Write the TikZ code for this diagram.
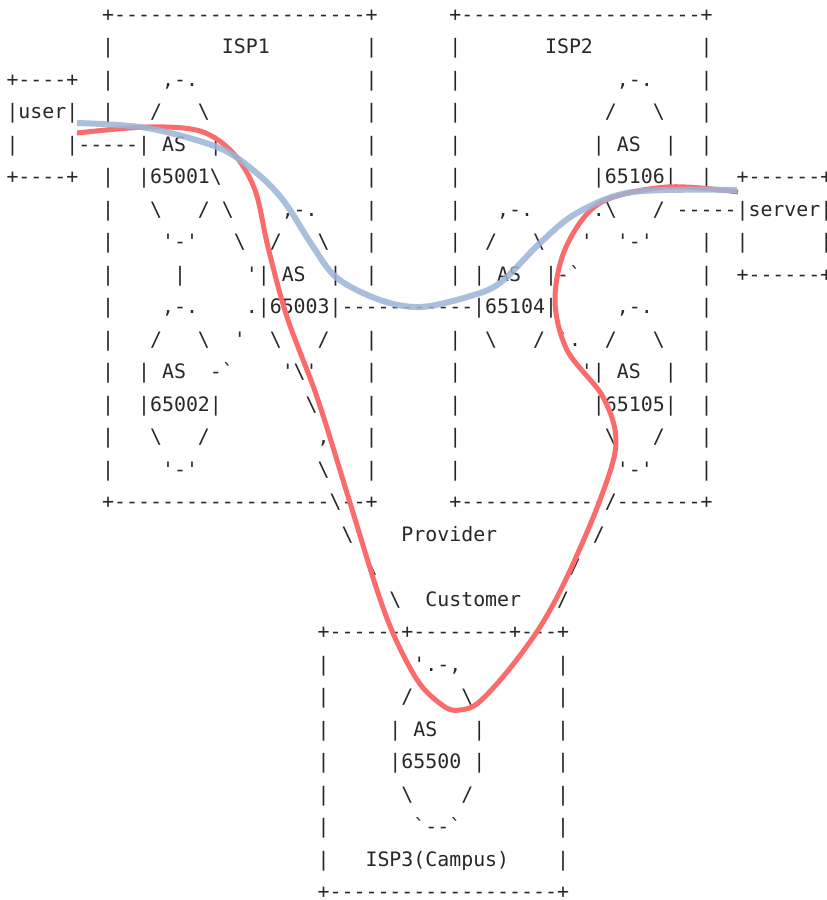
\documentclass[tikz,border=0pt]{standalone}
\usepackage{fontspec}
\setmonofont{DejaVu Sans Mono}
\ExplSyntaxOn
\NewDocumentCommand\dsh{m}{\prg_replicate:nn{#1}{-}}
\ExplSyntaxOff
\newcommand\sps[1]{\hspace*{#1\fontcharwd\font`0}}
\newcommand\bsl{\char"5C\relax}
\newcommand\apo{\char"27\relax}
\newcommand\bkt{\char"60\relax}
\definecolor{ink}{RGB}{40,40,40}
\definecolor{redline}{RGB}{250,108,108}
\definecolor{blueline}{RGB}{155,181,216}
\tikzset{
  ascii/.style={anchor=base west, inner sep=0pt, outer sep=0pt,
    font=\ttfamily\fontsize{14.91pt}{18pt}\selectfont, text=ink},
  redpath/.style={draw=redline, line width=3.75pt},
  bluepath/.style={draw=blueline, line width=4.5pt, opacity=0.85}
}
\begin{document}
\begin{tikzpicture}[x=0.75pt, y=-0.75pt]
\useasboundingbox (0,0) rectangle (827,900);
\fill[white] (0,0) rectangle (827,900);
\node[ascii] (r0) at (6.5,21.25) {\sps{8}+\dsh{21}+\sps{6}+\dsh{20}+};
\node[ascii] (r1) at (6.5,53.75) {\sps{8}|\sps{9}ISP1\sps{8}|\sps{6}|\sps{7}ISP2\sps{9}|};
\node[ascii] (r2) at (6.5,86.25) {+\dsh{4}+\sps{2}|\sps{4},-.\sps{14}|\sps{6}|\sps{13},-.\sps{4}|};
\node[ascii] (r3) at (6.5,118.75) {|user|\sps{2}|\sps{3}/\sps{3}\bsl\sps{13}|\sps{6}|\sps{12}/\sps{3}\bsl\sps{3}|};
\node[ascii] (r4) at (6.5,151.25) {|\sps{4}|\dsh{5}|\sps{1}AS\sps{2}|\sps{12}|\sps{6}|\sps{11}|\sps{1}AS\sps{2}|\sps{2}|};
\node[ascii] (r5) at (6.5,183.75) {+\dsh{4}+\sps{2}|\sps{2}|65001\bsl\sps{12}|\sps{6}|\sps{11}|65106|\sps{2}|\sps{2}+\dsh{6}+};
\node[ascii] (r6) at (6.5,216.25) {\sps{8}|\sps{3}\bsl\sps{3}/\sps{1}\bsl\sps{4},-.\sps{4}|\sps{6}|\sps{3},-.\sps{5}.\bsl\sps{3}/\sps{1}\dsh{5}|server|};
\node[ascii] (r7) at (6.5,248.75) {\sps{8}|\sps{4}\apo-\apo\sps{3}\bsl\sps{2}/\sps{3}\bsl\sps{3}|\sps{6}|\sps{2}/\sps{3}\bsl\sps{3}\apo\sps{2}\apo-\apo\sps{4}|\sps{2}|\sps{6}|};
\node[ascii] (r8) at (6.5,281.25) {\sps{8}|\sps{5}|\sps{5}\apo|\sps{1}AS\sps{2}|\sps{2}|\sps{6}|\sps{1}|\sps{1}AS\sps{2}|-\bkt\sps{10}|\sps{2}+\dsh{6}+};
\node[ascii] (r9) at (6.5,313.75) {\sps{8}|\sps{4},-.\sps{4}.|65003|\dsh{11}|65104|\sps{5},-.\sps{4}|};
\node[ascii] (r10) at (6.5,346.25) {\sps{8}|\sps{3}/\sps{3}\bsl\sps{2}\apo\sps{2}\bsl\sps{3}/\sps{3}|\sps{6}|\sps{2}\bsl\sps{3}/\sps{1}\bkt.\sps{2}/\sps{3}\bsl\sps{3}|};
\node[ascii] (r11) at (6.5,378.75) {\sps{8}|\sps{2}|\sps{1}AS\sps{2}-\bkt\sps{4}\apo\bsl\apo\sps{4}|\sps{6}|\sps{10}\apo|\sps{1}AS\sps{2}|\sps{2}|};
\node[ascii] (r12) at (6.5,411.25) {\sps{8}|\sps{2}|65002|\sps{7}\bsl\sps{4}|\sps{6}|\sps{11}|65105|\sps{2}|};
\node[ascii] (r13) at (6.5,443.75) {\sps{8}|\sps{3}\bsl\sps{3}/\sps{9},\sps{3}|\sps{6}|\sps{12}\bsl\sps{3}/\sps{3}|};
\node[ascii] (r14) at (6.5,476.25) {\sps{8}|\sps{4}\apo-\apo\sps{10}\bsl\sps{3}|\sps{6}|\sps{13}\apo-\apo\sps{4}|};
\node[ascii] (r15) at (6.5,508.75) {\sps{8}+\dsh{18}\bsl\dsh{2}+\sps{6}+\dsh{12}/\dsh{7}+};
\node[ascii] (r16) at (6.5,541.25) {\sps{28}\bsl\sps{4}Provider\sps{8}/};
\node[ascii] (r17) at (6.5,573.75) {\sps{30}\bsl\sps{16}/};
\node[ascii] (r18) at (6.5,606.25) {\sps{32}\bsl\sps{2}Customer\sps{3}/};
\node[ascii] (r19) at (6.5,638.75) {\sps{26}+\dsh{6}+\dsh{8}+\dsh{3}+};
\node[ascii] (r20) at (6.5,671.25) {\sps{26}|\sps{7}\apo.-,\sps{8}|};
\node[ascii] (r21) at (6.5,703.75) {\sps{26}|\sps{6}/\sps{4}\bsl\sps{7}|};
\node[ascii] (r22) at (6.5,736.25) {\sps{26}|\sps{5}|\sps{1}AS\sps{3}|\sps{6}|};
\node[ascii] (r23) at (6.5,768.75) {\sps{26}|\sps{5}|65500\sps{1}|\sps{6}|};
\node[ascii] (r24) at (6.5,801.25) {\sps{26}|\sps{6}\bsl\sps{4}/\sps{7}|};
\node[ascii] (r25) at (6.5,833.75) {\sps{26}|\sps{7}\bkt\dsh{2}\bkt\sps{8}|};
\node[ascii] (r26) at (6.5,866.25) {\sps{26}|\sps{3}ISP3(Campus)\sps{4}|};
\node[ascii] (r27) at (6.5,898.75) {\sps{26}+\dsh{19}+};
% red route
\draw[redpath] plot[smooth, tension=0.55] coordinates {
 (77,133) (147,127) (200,131) (233,153) (255,190) (268,247) (287,317) (317,397)
 (347,493) (377,590) (396,640) (420,684) (445,707) (460,710) (478,703)
 (507,672) (540,627) (567,577) (600,500) (616,443)
 (603,397) (567,350) (555,300) (566,247) (600,203) (667,187) (738,192)};
% blue route
\draw[bluepath] plot[smooth, tension=0.55] coordinates {
 (77,123) (147,128) (217,147) (253,170) (283,200) (312,245) (337,278) (380,300)
 (420,307) (467,297) (500,283) (540,243) (577,213) (633,192) (737,190)};
\end{tikzpicture}
\end{document}
